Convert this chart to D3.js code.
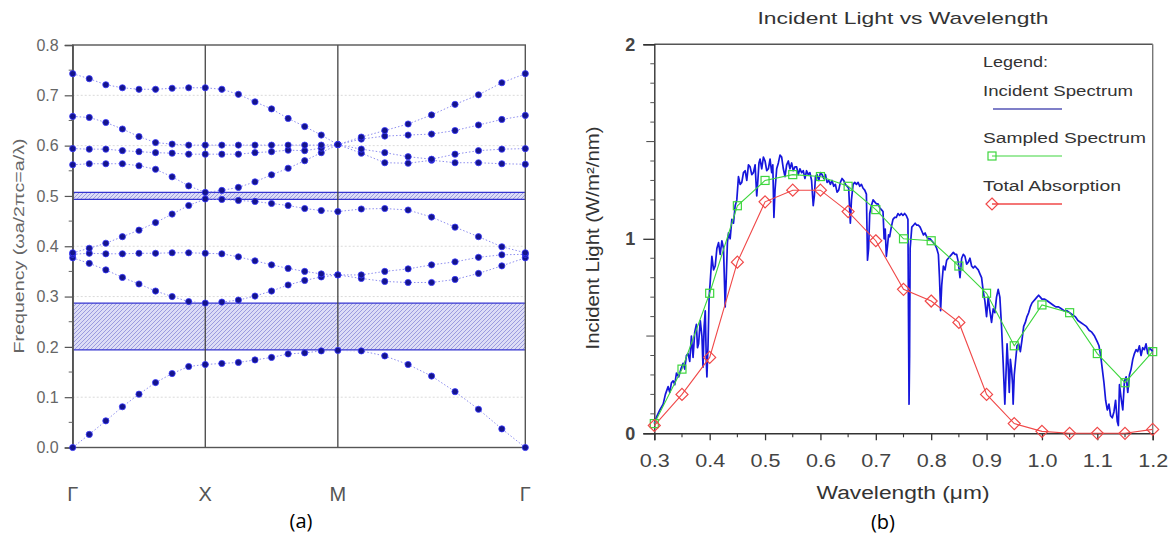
<!DOCTYPE html>
<html><head><meta charset="utf-8">
<script src="https://cdn.jsdelivr.net/npm/d3@7"></script>
<style>body{margin:0;background:#fff}svg{display:block;font-family:Arial,"Liberation Sans",sans-serif}</style>
</head><body>
<svg id="chart" width="1175" height="544"></svg>
<script>
// ---------- (a) photonic band structure ----------
const kPoints = [0, 0.125, 0.25, 0.375, 0.5, 0.625, 0.75, 0.875, 1, 1.125, 1.25, 1.375, 1.5, 1.625, 1.75, 1.875, 2, 2.177, 2.354, 2.530, 2.707, 2.884, 3.061, 3.237, 3.414];
const symLabels = ["Γ", "X", "M", "Γ"];
const symPositions = [0, 1, 2, 3.414];
const band1 = [0, 0.026, 0.053, 0.081, 0.106, 0.129, 0.147, 0.161, 0.165, 0.167, 0.169, 0.174, 0.179, 0.186, 0.188, 0.192, 0.193, 0.192, 0.182, 0.165, 0.142, 0.111, 0.076, 0.037, 0];
const band2 = [0.377, 0.366, 0.353, 0.338, 0.325, 0.311, 0.300, 0.290, 0.287, 0.289, 0.293, 0.301, 0.311, 0.323, 0.332, 0.339, 0.343, 0.336, 0.330, 0.328, 0.328, 0.334, 0.346, 0.361, 0.377];
const band3 = [0.384, 0.386, 0.385, 0.385, 0.386, 0.386, 0.387, 0.387, 0.386, 0.385, 0.379, 0.371, 0.363, 0.356, 0.350, 0.345, 0.343, 0.343, 0.350, 0.355, 0.363, 0.369, 0.378, 0.383, 0.384];
const band4 = [0.387, 0.396, 0.406, 0.419, 0.432, 0.447, 0.464, 0.481, 0.494, 0.493, 0.491, 0.489, 0.485, 0.481, 0.475, 0.471, 0.469, 0.474, 0.475, 0.472, 0.458, 0.438, 0.419, 0.399, 0.387];
const band5 = [0.562, 0.564, 0.564, 0.564, 0.560, 0.553, 0.538, 0.520, 0.507, 0.511, 0.517, 0.528, 0.542, 0.555, 0.570, 0.586, 0.602, 0.585, 0.566, 0.565, 0.571, 0.566, 0.566, 0.564, 0.563];
const band6 = [0.594, 0.593, 0.593, 0.590, 0.588, 0.586, 0.585, 0.583, 0.583, 0.583, 0.583, 0.586, 0.588, 0.591, 0.590, 0.595, 0.602, 0.593, 0.586, 0.578, 0.573, 0.583, 0.590, 0.593, 0.594];
const band7 = [0.658, 0.656, 0.646, 0.633, 0.618, 0.606, 0.603, 0.601, 0.601, 0.601, 0.601, 0.601, 0.601, 0.601, 0.601, 0.601, 0.602, 0.613, 0.619, 0.621, 0.623, 0.630, 0.641, 0.652, 0.660];
const band8 = [0.743, 0.733, 0.721, 0.715, 0.712, 0.712, 0.714, 0.715, 0.715, 0.712, 0.702, 0.687, 0.673, 0.654, 0.638, 0.621, 0.602, 0.617, 0.630, 0.643, 0.661, 0.682, 0.701, 0.725, 0.743];
const gapLow = [0.194, 0.493];
const gapHigh = [0.287, 0.507];
const freqTicks = [0, 0.1, 0.2, 0.3, 0.4, 0.5, 0.6, 0.7, 0.8];
const freqMinor = [0.05, 0.15, 0.25, 0.35, 0.45, 0.55, 0.65, 0.75];

// ---------- (b) incident light vs wavelength ----------
const sampleWl = [0.3, 0.35, 0.4, 0.45, 0.5, 0.55, 0.6, 0.65, 0.7, 0.75, 0.8, 0.85, 0.9, 0.95, 1.0, 1.05, 1.1, 1.15, 1.2];
const sampledVal = [0.05, 0.33, 0.72, 1.17, 1.30, 1.33, 1.32, 1.27, 1.15, 1.00, 0.99, 0.86, 0.72, 0.45, 0.66, 0.62, 0.41, 0.26, 0.42];
const absorptionVal = [0.04, 0.20, 0.39, 0.88, 1.19, 1.25, 1.25, 1.14, 0.99, 0.74, 0.68, 0.57, 0.20, 0.05, 0.01, 0.0, 0.0, 0.0, 0.02];
const incidentWl = [0.300,0.305,0.310,0.316,0.320,0.325,0.328,0.331,0.334,0.337,0.340,0.344,0.348,0.352,0.355,0.358,0.361,0.364,0.367,0.370,0.373,0.376,0.378,0.380,0.383,0.386,0.388,0.390,0.392,0.394,0.395,0.397,0.399,0.401,0.404,0.407,0.410,0.413,0.416,0.419,0.422,0.425,0.428,0.430,0.432,0.434,0.437,0.440,0.443,0.446,0.449,0.452,0.455,0.458,0.461,0.464,0.467,0.470,0.473,0.476,0.479,0.482,0.485,0.487,0.489,0.491,0.494,0.497,0.500,0.503,0.506,0.509,0.512,0.514,0.516,0.518,0.521,0.524,0.527,0.530,0.533,0.536,0.539,0.542,0.545,0.548,0.551,0.554,0.557,0.560,0.563,0.566,0.569,0.572,0.575,0.578,0.581,0.584,0.587,0.589,0.591,0.594,0.597,0.600,0.603,0.606,0.609,0.612,0.615,0.618,0.621,0.624,0.627,0.630,0.633,0.636,0.639,0.642,0.645,0.648,0.651,0.654,0.656,0.659,0.662,0.665,0.668,0.671,0.674,0.677,0.680,0.683,0.685,0.687,0.689,0.692,0.695,0.698,0.701,0.704,0.707,0.710,0.713,0.715,0.717,0.719,0.721,0.723,0.725,0.728,0.731,0.734,0.737,0.740,0.743,0.746,0.749,0.752,0.755,0.758,0.759,0.760,0.761,0.762,0.765,0.768,0.771,0.774,0.777,0.780,0.783,0.786,0.789,0.792,0.795,0.798,0.801,0.804,0.807,0.810,0.813,0.815,0.817,0.819,0.822,0.825,0.828,0.831,0.834,0.837,0.840,0.843,0.846,0.849,0.852,0.855,0.858,0.861,0.864,0.867,0.870,0.873,0.876,0.879,0.882,0.885,0.888,0.891,0.894,0.897,0.900,0.903,0.906,0.909,0.912,0.915,0.918,0.921,0.924,0.927,0.930,0.933,0.935,0.937,0.939,0.941,0.943,0.945,0.947,0.948,0.950,0.952,0.955,0.958,0.961,0.964,0.967,0.970,0.973,0.976,0.979,0.982,0.985,0.988,0.991,0.994,0.997,1.000,1.005,1.010,1.015,1.020,1.025,1.030,1.035,1.040,1.045,1.050,1.055,1.060,1.065,1.070,1.075,1.080,1.085,1.090,1.095,1.100,1.103,1.106,1.109,1.112,1.115,1.118,1.121,1.124,1.127,1.130,1.133,1.136,1.138,1.140,1.143,1.146,1.149,1.152,1.155,1.158,1.161,1.164,1.167,1.170,1.173,1.176,1.179,1.182,1.185,1.188,1.191,1.194,1.197,1.200];
const incidentVal = [0.05,0.09,0.12,0.15,0.20,0.24,0.21,0.26,0.27,0.25,0.31,0.29,0.33,0.36,0.33,0.40,0.41,0.37,0.50,0.39,0.52,0.56,0.44,0.46,0.58,0.50,0.34,0.55,0.63,0.36,0.29,0.45,0.70,0.78,0.91,0.84,0.86,0.95,0.98,0.92,0.99,0.95,0.65,0.80,0.98,1.03,1.00,1.10,1.08,1.17,1.20,1.32,1.28,1.29,1.34,1.35,1.30,1.38,1.37,1.33,1.34,1.38,1.22,1.30,1.39,1.41,1.36,1.42,1.40,1.35,1.36,1.41,1.34,1.38,1.11,1.25,1.36,1.39,1.43,1.42,1.36,1.32,1.38,1.40,1.36,1.39,1.35,1.37,1.37,1.33,1.36,1.34,1.35,1.31,1.35,1.33,1.34,1.30,1.17,1.22,1.32,1.33,1.30,1.34,1.33,1.31,1.33,1.29,1.30,1.28,1.30,1.27,1.28,1.24,1.25,1.29,1.31,1.30,1.28,1.27,1.26,1.08,1.20,1.28,1.29,1.28,1.29,1.27,1.28,1.26,1.25,1.23,0.89,0.95,1.13,1.17,1.20,1.19,1.18,1.18,1.16,1.15,1.14,1.00,1.05,0.91,0.96,1.02,1.01,1.06,1.10,1.11,1.11,1.13,1.12,1.13,1.12,1.13,1.12,1.10,0.60,0.15,0.40,0.95,1.06,1.07,1.08,1.07,1.07,1.06,1.04,1.02,1.03,1.01,1.00,1.00,0.99,0.98,0.97,0.95,0.92,0.80,0.63,0.76,0.86,0.84,0.89,0.90,0.91,0.92,0.93,0.92,0.92,0.88,0.80,0.90,0.92,0.91,0.87,0.88,0.90,0.86,0.85,0.86,0.85,0.84,0.82,0.80,0.73,0.68,0.60,0.70,0.63,0.57,0.64,0.62,0.70,0.74,0.70,0.55,0.36,0.15,0.30,0.46,0.35,0.21,0.38,0.33,0.25,0.15,0.30,0.36,0.45,0.46,0.42,0.48,0.55,0.57,0.60,0.62,0.65,0.67,0.68,0.69,0.70,0.71,0.70,0.69,0.69,0.68,0.67,0.66,0.65,0.65,0.64,0.63,0.63,0.62,0.61,0.60,0.58,0.57,0.56,0.55,0.53,0.52,0.50,0.47,0.45,0.40,0.33,0.26,0.17,0.12,0.15,0.09,0.08,0.11,0.17,0.06,0.04,0.25,0.18,0.12,0.27,0.29,0.21,0.30,0.33,0.38,0.41,0.43,0.42,0.45,0.40,0.44,0.43,0.46,0.41,0.44,0.43,0.42];
const wlTicks = [0.3, 0.4, 0.5, 0.6, 0.7, 0.8, 0.9, 1.0, 1.1, 1.2];
const wlMinor = [0.35, 0.45, 0.55, 0.65, 0.75, 0.85, 0.95, 1.05, 1.15];
const lightTicks = [0, 1, 2];
const lightMid = [0.5, 1.5];
const lightMinor = [0.1,0.2,0.3,0.4,0.6,0.7,0.8,0.9,1.1,1.2,1.3,1.4,1.6,1.7,1.8,1.9];
const legendLabels = ["Incident Spectrum", "Sampled Spectrum", "Total Absorption"];

const svg = d3.select("#chart");

// ================= Panel (a) =================
const xA = d3.scaleLinear().domain([0, 3.414]).range([72.7, 525.3]);
const yA = d3.scaleLinear().domain([0, 0.8]).range([447.5, 45]);
const defs = svg.append("defs");
const pat = defs.append("pattern").attr("id", "hatch").attr("patternUnits", "userSpaceOnUse")
  .attr("width", 4).attr("height", 4);
pat.append("rect").attr("width", 4).attr("height", 4).attr("fill", "#dcdcf6");
pat.append("path").attr("d", "M-1,1L1,-1M0,4L4,0M3,5L5,3").attr("stroke", "#9494dc").attr("stroke-width", 0.9);

const gA = svg.append("g");
gA.selectAll("line.grid").data(freqTicks.slice(1, -1)).join("line")
  .attr("x1", xA(0)).attr("x2", xA(3.414)).attr("y1", d => yA(d)).attr("y2", d => yA(d))
  .attr("stroke", "#dadada").attr("stroke-dasharray", "2,2");
gapLow.forEach((lo, i) => {
  const hi = gapHigh[i];
  gA.append("rect").attr("x", xA(0)).attr("width", xA(3.414) - xA(0))
    .attr("y", yA(hi)).attr("height", yA(lo) - yA(hi)).attr("fill", "url(#hatch)");
  [lo, hi].forEach(v => gA.append("line").attr("x1", xA(0)).attr("x2", xA(3.414))
    .attr("y1", yA(v)).attr("y2", yA(v)).attr("stroke", "#3434d0").attr("stroke-width", 1.3));
});
symPositions.slice(1, 3).forEach(p => gA.append("line").attr("x1", xA(p)).attr("x2", xA(p))
  .attr("y1", yA(0)).attr("y2", yA(0.8)).attr("stroke", "#444").attr("stroke-width", 1.3));
gA.append("rect").attr("x", xA(0)).attr("y", yA(0.8)).attr("width", xA(3.414) - xA(0))
  .attr("height", yA(0) - yA(0.8)).attr("fill", "none").attr("stroke", "#555").attr("stroke-width", 1.4);
const axA = gA.append("g").attr("transform", `translate(${xA(0)},0)`)
  .call(d3.axisLeft(yA).tickValues(freqTicks).tickFormat(d3.format(".1f")).tickSize(8).tickPadding(6));
axA.select(".domain").attr("stroke", "#555").attr("stroke-width", 1.4);
axA.selectAll(".tick line").attr("stroke", "#555").attr("stroke-width", 1.2);
axA.selectAll(".tick text").attr("fill", "#666").attr("font-size", 16).attr("font-family", "Arial");
gA.selectAll("line.minorA").data(freqMinor).join("line")
  .attr("x1", xA(0) - 4).attr("x2", xA(0)).attr("y1", d => yA(d)).attr("y2", d => yA(d))
  .attr("stroke", "#666").attr("stroke-width", 1);
const bands = [band1, band2, band3, band4, band5, band6, band7, band8];
const lineA = d3.line().x((d, i) => xA(kPoints[i])).y(d => yA(d));
bands.forEach(b => {
  gA.append("path").attr("d", lineA(b)).attr("fill", "none")
    .attr("stroke", "#8f8ff0").attr("stroke-width", 1).attr("stroke-dasharray", "1.5,2");
});
bands.forEach(b => {
  gA.selectAll(null).data(b).join("circle")
    .attr("cx", (d, i) => xA(kPoints[i])).attr("cy", d => yA(d)).attr("r", 3.1)
    .attr("fill", "#14148c").attr("stroke", "#3a3aff").attr("stroke-width", 0.8);
});
gA.selectAll("text.sym").data(symLabels).join("text")
  .attr("x", (d, i) => xA(symPositions[i])).attr("y", 494).attr("dy", "0.35em")
  .attr("text-anchor", "middle").attr("font-size", 20).attr("fill", "#555").text(d => d);
gA.append("text").attr("transform", "translate(18.5,246) rotate(-90)")
  .attr("text-anchor", "middle").attr("dy", "0.35em").attr("font-size", 15).attr("fill", "#666")
  .attr("textLength", 215).attr("lengthAdjust", "spacingAndGlyphs")
  .text("Frequency (ωa/2πc=a/λ)");
svg.append("text").attr("x", 301).attr("y", 521).attr("dy", "0.35em").attr("text-anchor", "middle")
  .attr("font-family", "Open Sans, sans-serif").attr("font-size", 20).attr("fill", "#000").text("(a)");

// ================= Panel (b) =================
const xB = d3.scaleLinear().domain([0.3, 1.2]).range([654.3, 1152.7]);
const yB = d3.scaleLinear().domain([0, 2]).range([433.3, 44.3]);
const gB = svg.append("g");
gB.append("line").attr("x1", xB(0.3)).attr("x2", xB(1.2)).attr("y1", yB(2)).attr("y2", yB(2))
  .attr("stroke", "#555").attr("stroke-width", 1.4);
gB.append("line").attr("x1", xB(1.2)).attr("x2", xB(1.2)).attr("y1", yB(2)).attr("y2", yB(0))
  .attr("stroke", "#777").attr("stroke-width", 1.4);
const axBx = gB.append("g").attr("transform", `translate(0,${yB(0)})`)
  .call(d3.axisBottom(xB).tickValues(wlTicks).tickFormat(d3.format(".1f")).tickSize(7));
axBx.select(".domain").attr("stroke", "#333").attr("stroke-width", 1.4);
axBx.selectAll(".tick line").attr("stroke", "#333").attr("stroke-width", 1.3);
axBx.selectAll(".tick text").attr("y", 27).attr("dy", "0.35em").attr("fill", "#444")
  .attr("font-size", 18).attr("font-family", "Arial").attr("textLength", 30).attr("lengthAdjust", "spacingAndGlyphs");
gB.selectAll("line.minx").data(wlMinor).join("line")
  .attr("x1", d => xB(d)).attr("x2", d => xB(d)).attr("y1", yB(0)).attr("y2", yB(0) + 4)
  .attr("stroke", "#333").attr("stroke-width", 1.1);
const axBy = gB.append("g").attr("transform", `translate(${xB(0.3)},0)`)
  .call(d3.axisLeft(yB).tickValues(lightTicks).tickFormat(d3.format("d")).tickSize(11).tickPadding(8));
axBy.select(".domain").attr("stroke", "#333").attr("stroke-width", 1.4);
axBy.selectAll(".tick line").attr("stroke", "#333").attr("stroke-width", 1.3);
axBy.selectAll(".tick text").attr("fill", "#444").attr("font-size", 18).attr("font-weight", "bold")
  .attr("font-family", "Arial");
gB.selectAll("line.miny").data(lightMinor).join("line")
  .attr("x1", xB(0.3) - 4).attr("x2", xB(0.3)).attr("y1", d => yB(d)).attr("y2", d => yB(d))
  .attr("stroke", "#555").attr("stroke-width", 1);
gB.selectAll("line.midy").data(lightMid).join("line")
  .attr("x1", xB(0.3) - 8).attr("x2", xB(0.3)).attr("y1", d => yB(d)).attr("y2", d => yB(d))
  .attr("stroke", "#555").attr("stroke-width", 1.1);
const lineB = d3.line().x(d => xB(d[0])).y(d => yB(d[1]));
gB.append("path").attr("d", lineB(d3.zip(incidentWl, incidentVal))).attr("fill", "none")
  .attr("stroke", "#1616dc").attr("stroke-width", 1.7).attr("stroke-linejoin", "round");
gB.append("path").attr("d", lineB(d3.zip(sampleWl, sampledVal))).attr("fill", "none")
  .attr("stroke", "#3ed63e").attr("stroke-width", 1.1);
gB.append("path").attr("d", lineB(d3.zip(sampleWl, absorptionVal))).attr("fill", "none")
  .attr("stroke", "#f04848").attr("stroke-width", 1.1);
gB.selectAll("rect.sq").data(sampledVal).join("rect")
  .attr("x", (d, i) => xB(sampleWl[i]) - 4).attr("y", d => yB(d) - 4).attr("width", 8).attr("height", 8)
  .attr("fill", "none").attr("stroke", "#3ed63e").attr("stroke-width", 1.2);
const diamond = "M0,-6L6,0L0,6L-6,0Z";
gB.selectAll("path.dm").data(absorptionVal).join("path")
  .attr("d", diamond).attr("transform", (d, i) => `translate(${xB(sampleWl[i])},${yB(d)})`)
  .attr("fill", "none").attr("stroke", "#f04848").attr("stroke-width", 1.2);
gB.append("text").attr("x", 903).attr("y", 18).attr("dy", "0.35em").attr("text-anchor", "middle")
  .attr("font-size", 17).attr("fill", "#333").attr("textLength", 291).attr("lengthAdjust", "spacingAndGlyphs")
  .text("Incident Light vs Wavelength");
gB.append("text").attr("x", 903).attr("y", 493).attr("dy", "0.35em").attr("text-anchor", "middle")
  .attr("font-size", 18).attr("fill", "#333").attr("textLength", 173).attr("lengthAdjust", "spacingAndGlyphs")
  .text("Wavelength (μm)");
gB.append("text").attr("transform", "translate(593,238) rotate(-90)").attr("dy", "0.35em")
  .attr("text-anchor", "middle").attr("font-size", 18).attr("fill", "#333")
  .attr("textLength", 223).attr("lengthAdjust", "spacingAndGlyphs").text("Incident Light (W/m²/nm)");
const lg = gB.append("g").attr("font-size", 15.5).attr("fill", "#333");
lg.append("text").attr("x", 983).attr("y", 62).attr("dy", "0.35em")
  .attr("textLength", 65).attr("lengthAdjust", "spacingAndGlyphs").text("Legend:");
const legY = [91, 138, 186];
const legW = [150, 163, 138];
legendLabels.forEach((t, i) => lg.append("text").attr("x", 983).attr("y", legY[i]).attr("dy", "0.35em")
  .attr("textLength", legW[i]).attr("lengthAdjust", "spacingAndGlyphs").text(t));
lg.append("line").attr("x1", 993).attr("x2", 1062).attr("y1", 109).attr("y2", 109)
  .attr("stroke", "#7f7fc8").attr("stroke-width", 2);
lg.append("line").attr("x1", 992).attr("x2", 1062).attr("y1", 156).attr("y2", 156)
  .attr("stroke", "#3ed63e").attr("stroke-width", 1.1);
lg.append("rect").attr("x", 988).attr("y", 152).attr("width", 8).attr("height", 8)
  .attr("fill", "none").attr("stroke", "#3ed63e").attr("stroke-width", 1.2);
lg.append("line").attr("x1", 992).attr("x2", 1062).attr("y1", 204).attr("y2", 204)
  .attr("stroke", "#f04848").attr("stroke-width", 1.3);
lg.append("path").attr("d", diamond).attr("transform", "translate(992,204)")
  .attr("fill", "none").attr("stroke", "#f04848").attr("stroke-width", 1.2);
svg.append("text").attr("x", 883).attr("y", 522).attr("dy", "0.35em").attr("text-anchor", "middle")
  .attr("font-family", "Open Sans, sans-serif").attr("font-size", 20).attr("fill", "#000").text("(b)");
</script>
</body></html>
